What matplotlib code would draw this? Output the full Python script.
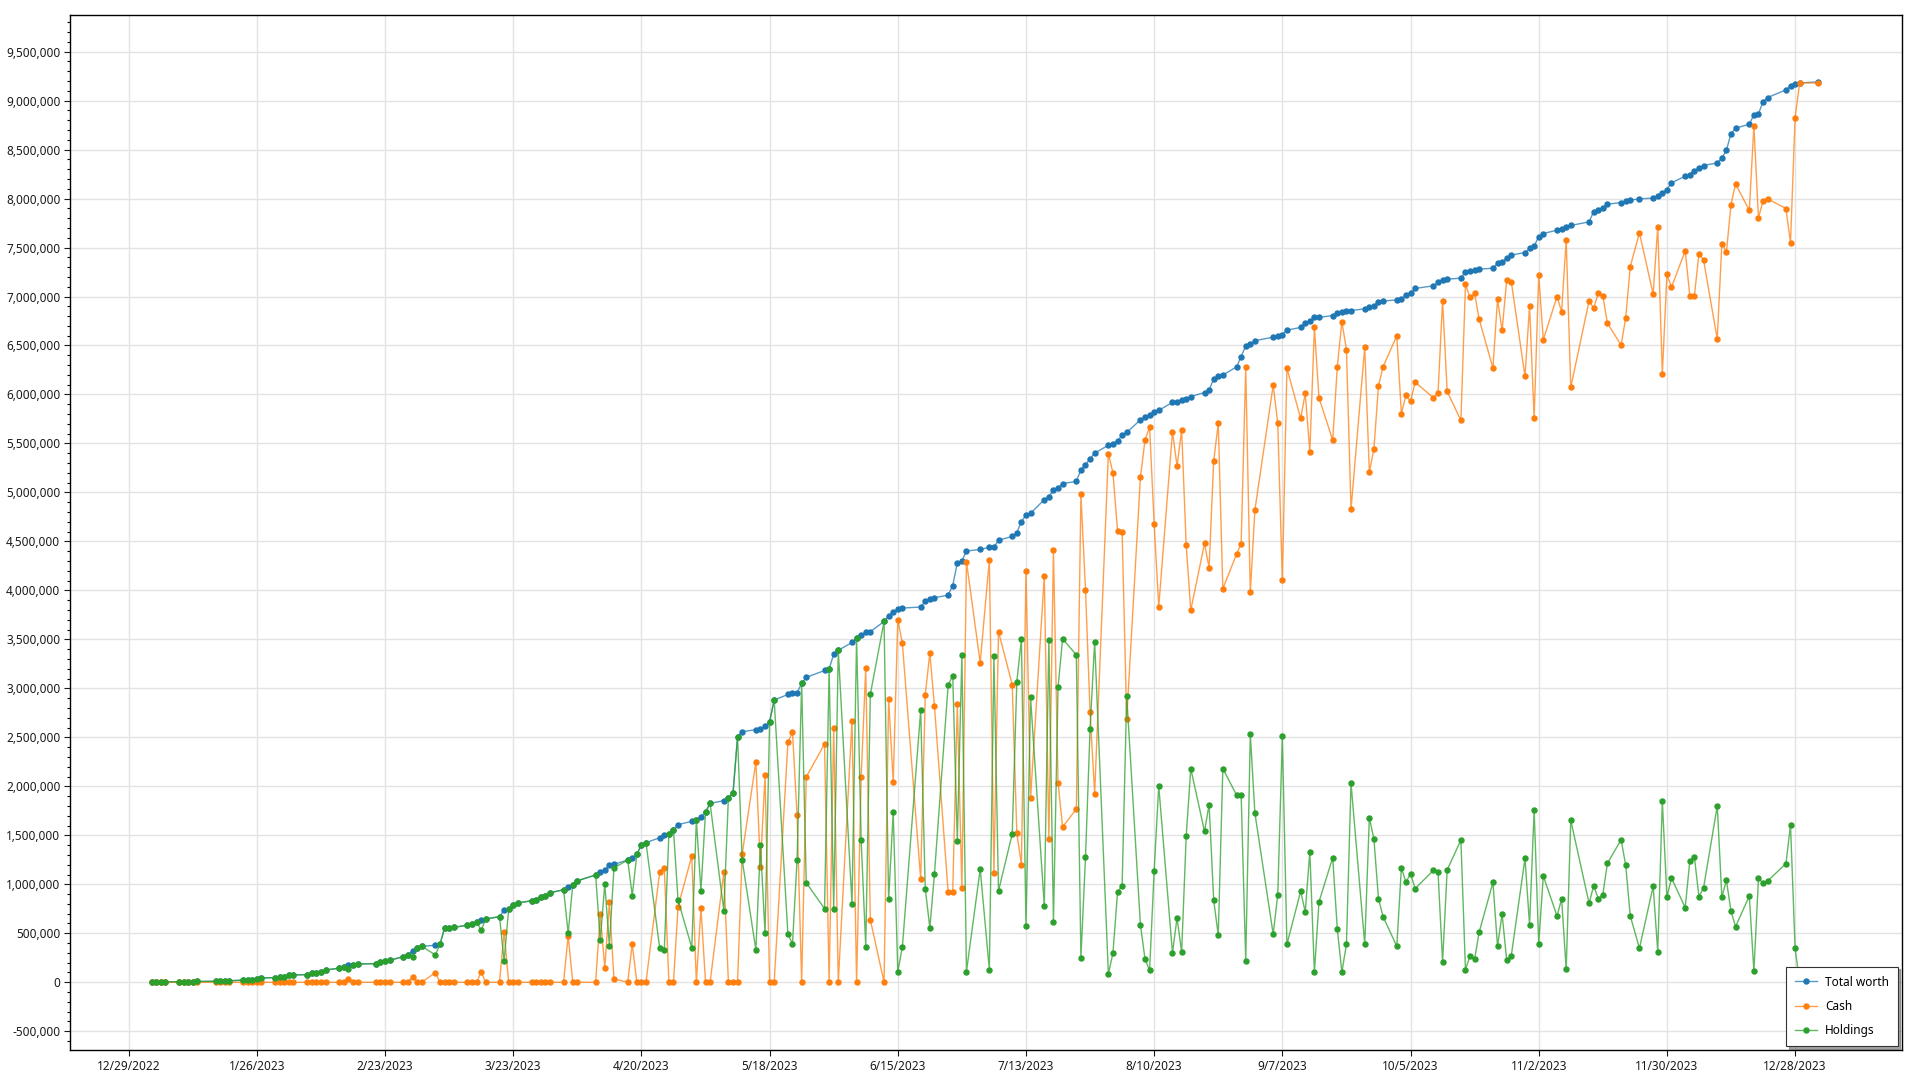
import matplotlib
matplotlib.use("Agg")
import matplotlib.pyplot as plt
import matplotlib.dates as mdates
from matplotlib.ticker import FuncFormatter, MultipleLocator
import pandas as pd
import datetime as dt

# days the market data has no entry (weekends skipped too)
closed_days = ['2023-01-16', '2023-02-20', '2023-04-07', '2023-05-29', '2023-06-19',
               '2023-07-04', '2023-09-04', '2023-10-09', '2023-11-10', '2023-11-23',
               '2023-12-25', '2024-01-01']
first_day = '2023-01-03'
last_day = '2024-01-02'

# values in thousands, one per trading day
total_worth = [
    2, 3, 3, 4, 5, 6, 6, 7, 8, 10, 11, 13, 14, 20, 24, 27, 37, 44, 48, 51,  # jan
    58, 71, 75, 78, 92, 99, 105, 126, 143, 156, 173, 173, 187, 190, 204, 221, 224, 262, 282,  # feb
    320, 347, 367, 378, 388, 554, 558, 561, 582, 595, 616, 633, 646, 670, 735, 745, 792, 810,
    832, 837, 869, 881, 913,  # mar
    945, 976, 995, 1036, 1095, 1126, 1146, 1194, 1204, 1248, 1272, 1306, 1405, 1425,
    1476, 1503, 1513, 1558, 1609,  # apr
    1643, 1656, 1690, 1738, 1826, 1854, 1884, 1928, 2507, 2558, 2578, 2585, 2615, 2660, 2881,
    2938, 2949, 2956, 3051, 3112, 3183, 3200,  # may
    3347, 3388, 3469, 3510, 3547, 3571, 3578, 3683, 3740, 3776, 3812, 3820, 3830, 3890, 3915,
    3925, 3952, 4050, 4281, 4300, 4402,  # jun
    4418, 4441, 4441, 4512, 4551, 4590, 4703, 4770, 4786, 4927, 4958, 5024, 5044, 5091,
    5112, 5232, 5284, 5345, 5401, 5482,  # jul
    5499, 5527, 5583, 5612, 5741, 5773, 5789, 5818, 5838, 5919, 5927, 5947, 5955, 5979,
    6020, 6044, 6160, 6186, 6198, 6282, 6387, 6496, 6512,  # aug
    6549, 6585, 6599, 6612, 6657, 6684, 6728, 6748, 6786, 6786, 6806, 6827, 6844, 6847, 6857,
    6874, 6888, 6905, 6942, 6953,  # sep
    6966, 6970, 7014, 7038, 7082, 7109, 7143, 7167, 7177, 7187, 7252, 7259, 7269, 7279,
    7289, 7340, 7350, 7395, 7422, 7449, 7490,  # oct
    7517, 7609, 7643, 7677, 7694, 7711, 7725, 7762, 7866, 7888, 7905, 7942, 7959, 7976, 7983,
    7997, 8004, 8024, 8061, 8092,  # nov
    8160, 8228, 8245, 8286, 8310, 8337, 8364, 8412, 8493, 8663, 8718, 8759, 8854, 8864, 8990,
    9031, 9109, 9153, 9174, 9180,  # dec
    9190,
]

cash = [
    0, 0, 0, 0, 0, 0, 0, 0, 0, 0, 0, 0, 0, 0, 0, 0, 0, 0, 0, 0,
    0, 0, 0, 0, 0, 0, 0, 0, 0, 0, 37, 0, 0, 0, 0, 0, 0, 0, 0,
    58, 0, 0, 99, 0, 0, 0, 0, 0, 0, 0, 102, 0, 0, 517, 0, 0, 0, 0, 0, 0, 0, 0,
    0, 476, 0, 0, 0, 694, 146, 820, 37, 0, 388, 0, 0, 0, 1129, 1170, 0, 0, 772,
    1289, 0, 758, 0, 0, 1122, 0, 0, 0, 1306, 2248, 1180, 2115, 0, 0, 2449, 2554, 1707, 0,
    2095, 2432, 0,
    2595, 0, 2670, 0, 2098, 3207, 639, 0, 2895, 2040, 3703, 3460, 1054, 2933, 3360, 2824,
    920, 920, 2841, 959, 4293,
    3263, 4312, 1115, 3580, 3036, 1522, 1201, 4195, 1878, 4148, 1463, 4410, 2035, 1585,
    1770, 4981, 4008, 2759, 1923, 5397,
    5199, 4606, 4598, 2687, 5155, 5535, 5668, 4678, 3834, 5620, 5268, 5640, 4460, 3798,
    4480, 4230, 5321, 5705, 4016, 4371, 4476, 6278, 3979,
    4820, 6095, 5704, 4102, 6269, 5755, 6010, 5415, 6684, 5966, 5534, 6279, 6742, 6459,
    4827, 6487, 5208, 5442, 6089, 6283,
    6599, 5803, 5993, 5929, 6126, 5966, 6014, 6959, 6031, 5735, 7123, 6990, 7031, 6766,
    6269, 6973, 6653, 7167, 7153, 6184, 6905,
    5755, 7218, 6558, 7000, 6844, 7578, 6072, 6956, 6881, 7034, 7010, 6728, 6504, 6783,
    7306, 7650, 7024, 7714, 6208, 7225,
    7096, 7466, 7007, 7007, 7436, 7374, 6565, 7541, 7453, 7939, 8150, 7878, 8742, 7803,
    7976, 7997, 7898, 7548, 8827, 9180,
    9180,
]

holdings = [
    2, 3, 3, 4, 5, 6, 6, 7, 8, 10, 11, 13, 14, 20, 24, 27, 37, 44, 48, 51,
    58, 71, 75, 78, 92, 99, 105, 126, 143, 156, 136, 173, 187, 190, 204, 221, 224, 262, 282,
    262, 347, 367, 279, 388, 554, 558, 561, 582, 595, 616, 531, 646, 670, 218, 745, 792, 810,
    832, 837, 869, 881, 913,
    945, 500, 995, 1036, 1095, 432, 1000, 374, 1167, 1248, 884, 1306, 1405, 1425, 347, 333,
    1513, 1558, 837,
    354, 1656, 932, 1738, 1826, 732, 1884, 1928, 2507, 1252, 330, 1405, 500, 2660, 2881,
    489, 395, 1249, 3051, 1017, 751, 3200,
    752, 3388, 799, 3510, 1449, 364, 2939, 3683, 845, 1736, 109, 360, 2776, 957, 555, 1101,
    3032, 3130, 1440, 3341, 109,
    1155, 129, 3326, 932, 1515, 3068, 3502, 575, 2908, 779, 3495, 614, 3009, 3506,
    3342, 251, 1276, 2586, 3478, 85,
    300, 921, 985, 2925, 586, 238, 121, 1140, 2004, 299, 659, 307, 1495, 2181,
    1540, 1814, 839, 481, 2182, 1911, 1911, 218, 2533,
    1729, 490, 895, 2510, 388, 929, 718, 1333, 102, 820, 1272, 548, 102, 388,
    2030, 387, 1680, 1463, 853, 670,
    367, 1167, 1021, 1109, 956, 1143, 1129, 208, 1146, 1452, 129, 269, 238, 513,
    1020, 367, 697, 228, 269, 1265, 585,
    1762, 391, 1085, 677, 850, 133, 1653, 806, 985, 854, 895, 1214, 1455, 1193,
    677, 347, 980, 310, 1853, 867,
    1064, 762, 1238, 1279, 874, 963, 1799, 871, 1040, 724, 568, 881, 112, 1061,
    1014, 1034, 1211, 1605, 347, 0,
    10,
]

tick_start = dt.date(2022, 12, 29)
tick_step_days = 28
tick_count = 14


def main():
    dates = pd.bdate_range(first_day, last_day, freq='C', holidays=closed_days)

    plt.rcParams['font.family'] = ['Noto Sans', 'DejaVu Sans']

    fig = plt.figure(figsize=(19.2, 10.8), dpi=100)
    ax = fig.add_axes([0.0365, 0.0278, 0.954, 0.958])

    series = [
        ('Total worth', total_worth, '#1f77b4'),
        ('Cash', cash, '#ff7f0e'),
        ('Holdings', holdings, '#2ca02c'),
    ]
    for name, vals, col in series:
        rgb = matplotlib.colors.to_rgb(col)
        ax.plot(dates, [v * 1000 for v in vals], color=rgb + (0.75,), lw=1.0,
                marker='o', ms=3.6, mfc=col, mec=col, label=name)

    ticks = [tick_start + dt.timedelta(days=tick_step_days * i) for i in range(tick_count)]
    ax.set_xticks([mdates.date2num(t) for t in ticks])
    ax.set_xticklabels([f"{t.month}/{t.day}/{t.year}" for t in ticks])
    t0 = mdates.date2num(tick_start)
    ax.set_xlim(t0 - 12.8, t0 + 387.3)

    ax.set_ylim(-691000, 9870000)
    ax.yaxis.set_major_locator(MultipleLocator(500000))
    ax.yaxis.set_minor_locator(MultipleLocator(100000))
    ax.yaxis.set_major_formatter(FuncFormatter(lambda v, p: f"{v:,.0f}"))

    ax.grid(True, which='major', color='#e3e3e3', lw=1.0)
    ax.set_axisbelow(True)
    ax.tick_params(axis='both', which='major', length=4, width=0.8, labelsize=8.5,
                   colors='#1a1a1a', pad=3)
    ax.tick_params(axis='y', which='minor', length=2.5, width=0.8)
    for s in ax.spines.values():
        s.set_color('black')
        s.set_linewidth(1.0)

    leg = ax.legend(loc='lower right', fontsize=8.5, frameon=True, fancybox=False,
                    shadow=True, edgecolor='#333333', labelspacing=0.95,
                    handlelength=1.8, handletextpad=0.7, borderaxespad=0.35,
                    borderpad=0.75)
    leg.get_frame().set_linewidth(0.8)

    fig.savefig('out.png', dpi=100, facecolor='white')


if __name__ == "__main__":
    main()
